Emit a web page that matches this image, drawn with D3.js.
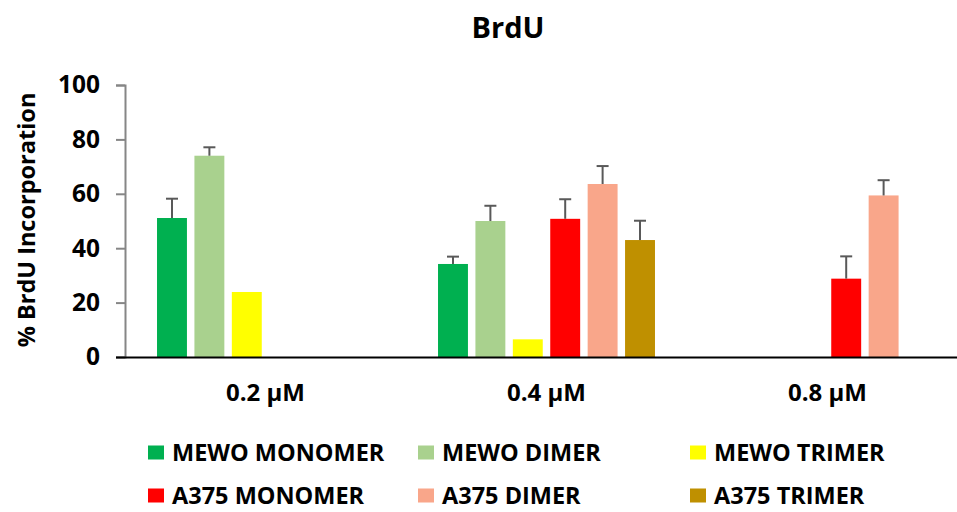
<!DOCTYPE html>
<html>
<head>
<meta charset="utf-8">
<script src="https://cdn.jsdelivr.net/npm/d3@7"></script>
<style>
  html, body { margin: 0; padding: 0; background: #fff; }
  svg { display: block; font-family: "Open Sans", "Liberation Sans", sans-serif; font-weight: bold; }
</style>
</head>
<body>
<svg id="chart" width="957" height="512"></svg>
<script>
const title = "BrdU";
const yLabel = "% BrdU Incorporation";
const groups = ["0.2 µM", "0.4 µM", "0.8 µM"];
const seriesNames = ["MEWO MONOMER", "MEWO DIMER", "MEWO TRIMER", "A375 MONOMER", "A375 DIMER", "A375 TRIMER"];
const seriesColors = ["#00B050", "#A9D18E", "#FFFF00", "#FF0000", "#F9A68A", "#BF9000"];
// values per series across groups (null = no bar)
const mewoMonomer = [51.1, 34.2, null];
const mewoDimer   = [74.0, 50.0, null];
const mewoTrimer  = [23.9, 6.5, null];
const a375Monomer = [null, 50.8, 28.8];
const a375Dimer   = [null, 63.6, 59.4];
const a375Trimer  = [null, 43.0, null];
// upper error (SD) per series across groups
const mewoMonomerErr = [7.1, 2.7, null];
const mewoDimerErr   = [3.1, 5.6, null];
const mewoTrimerErr  = [null, null, null];
const a375MonomerErr = [null, 7.2, 8.2];
const a375DimerErr   = [null, 6.6, 5.6];
const a375TrimerErr  = [null, 7.1, null];
const yTicks = [0, 20, 40, 60, 80, 100];

const values = [mewoMonomer, mewoDimer, mewoTrimer, a375Monomer, a375Dimer, a375Trimer];
const errors = [mewoMonomerErr, mewoDimerErr, mewoTrimerErr, a375MonomerErr, a375DimerErr, a375TrimerErr];

const svg = d3.select("#chart");
const mLeft = 125, mRight = 968, mTop = 85, mBottom = 357;

const x0 = d3.scaleBand().domain(groups).range([mLeft, mRight]).paddingInner(0).paddingOuter(0);
const x1 = d3.scaleBand().domain(seriesNames).range([0, x0.bandwidth()]).paddingInner(0.2).paddingOuter(0.856);
const y = d3.scaleLinear().domain([0, 100]).range([mBottom, mTop]);

// Title
svg.append("text").attr("x", 508).attr("y", 38).attr("text-anchor", "middle")
  .attr("font-size", 29).attr("fill", "#000").text(title);

// Y axis
const yAxis = svg.append("g").attr("transform", `translate(${mLeft},0)`)
  .call(d3.axisLeft(y).tickValues(yTicks).tickSize(9).tickPadding(16));
yAxis.select(".domain").attr("stroke", "#868686").attr("stroke-width", 2);
yAxis.selectAll(".tick line").attr("stroke", "#868686").attr("stroke-width", 2);
yAxis.selectAll(".tick text").attr("font-size", 24.5).attr("font-family", "Open Sans, sans-serif")
  .attr("font-weight", "bold").attr("fill", "#000");

// Y label
svg.append("text").attr("transform", `translate(35,220) rotate(-90)`).attr("text-anchor", "middle")
  .attr("font-size", 23.5).attr("fill", "#000").text(yLabel);

// Bars
const barData = [];
values.forEach((arr, si) => arr.forEach((v, gi) => {
  if (v !== null) barData.push({ g: groups[gi], s: seriesNames[si], v, e: errors[si][gi], c: seriesColors[si] });
}));

const barG = svg.append("g");
barG.selectAll("rect").data(barData).join("rect")
  .attr("x", d => x0(d.g) + x1(d.s))
  .attr("y", d => y(d.v))
  .attr("width", x1.bandwidth())
  .attr("height", d => y(0) - y(d.v))
  .attr("fill", d => d.c);

// Error bars (upper only)
const errData = barData.filter(d => d.e !== null && d.e !== undefined);
const errG = svg.append("g").attr("stroke", "#595959").attr("stroke-width", 2);
errG.selectAll("line.v").data(errData).join("line").attr("class", "v")
  .attr("x1", d => x0(d.g) + x1(d.s) + x1.bandwidth() / 2)
  .attr("x2", d => x0(d.g) + x1(d.s) + x1.bandwidth() / 2)
  .attr("y1", d => y(d.v)).attr("y2", d => y(d.v + d.e));
errG.selectAll("line.c").data(errData).join("line").attr("class", "c")
  .attr("x1", d => x0(d.g) + x1(d.s) + x1.bandwidth() / 2 - 6)
  .attr("x2", d => x0(d.g) + x1(d.s) + x1.bandwidth() / 2 + 6)
  .attr("y1", d => y(d.v + d.e)).attr("y2", d => y(d.v + d.e));

// X axis
const xAxis = svg.append("g").attr("transform", `translate(0,${mBottom})`)
  .call(d3.axisBottom(x0).tickSize(0).tickPadding(27));
xAxis.select(".domain").attr("stroke", "#000").attr("stroke-width", 2).attr("d", `M${mLeft - 9},0.5H${mRight}`);
xAxis.selectAll(".tick text").attr("font-size", 24).attr("font-family", "Open Sans, sans-serif")
  .attr("font-weight", "bold").attr("fill", "#000");

// Legend
const legCols = [148, 418, 690];
const legRows = [461, 504];
const leg = svg.append("g");
seriesNames.forEach((name, i) => {
  const cx = legCols[i % 3], cy = legRows[Math.floor(i / 3)];
  leg.append("rect").attr("x", cx).attr("y", cy - 15.5).attr("width", 16).attr("height", 14).attr("fill", seriesColors[i]);
  leg.append("text").attr("x", cx + 24).attr("y", cy).attr("font-size", 23.5).attr("fill", "#000").text(name);
});
</script>
</body>
</html>
